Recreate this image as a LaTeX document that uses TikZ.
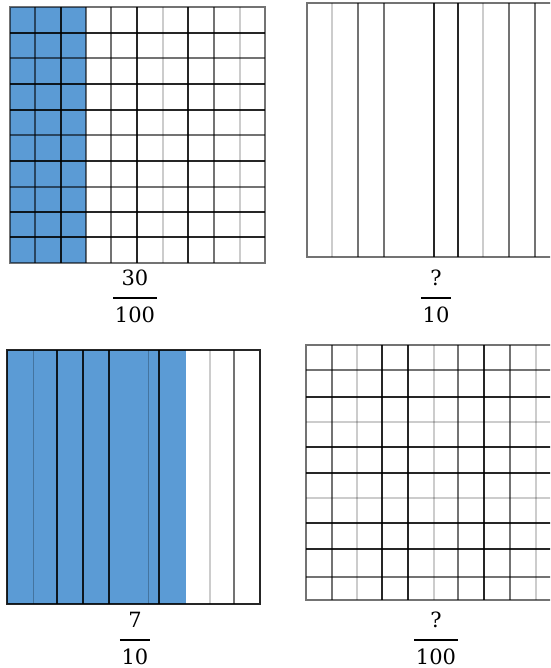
\documentclass[tikz,border=0pt]{standalone}
\usepackage{fontspec}
\newfontfamily\fracfont{DejaVu Serif}
\begin{document}
\begin{tikzpicture}[x=1pt,y=-1pt,
  dk/.style={draw=black,draw opacity=0.85,line width=1.3pt},
  md/.style={draw=black,draw opacity=0.55,line width=1.3pt},
  lt/.style={draw=black,draw opacity=0.2,line width=1.3pt},
  fa/.style={draw=black,draw opacity=0.25,line width=1pt},
  num/.style={font=\fracfont\fontsize{21}{25}\selectfont,inner sep=0pt,anchor=base},
  bar/.style={line width=2pt}]
\definecolor{fillblue}{HTML}{5B9BD5}
\clip (0,0) rectangle (550,668);
\fill[white] (0,0) rectangle (550,668);
% ---- top left: 30/100 ----
\fill[fillblue] (10,7) rectangle (86,263);
\foreach \y/\s in {33/dk,58/md,84/dk,110/dk,135/md,161/dk,187/md,212/dk,237/dk}
  \draw[\s] (10,\y) -- (265,\y);
\foreach \x/\s in {35/md,61/dk,86/md,111/md,137/dk,163/lt,188/dk,214/md,240/lt}
  \draw[\s] (\x,7) -- (\x,263);
\draw[md] (10,7) rectangle (265,263);
% ---- top right: ?/10 ----
\foreach \x/\s in {332/lt,358/md,384/md,434/dk,458/dk,483/lt,509/md,535/md}
  \draw[\s] (\x,3) -- (\x,257);
\draw[md] (307,3) rectangle (562,257);
% ---- bottom left: 7/10 ----
\fill[fillblue] (7,350) rectangle (186,604);
\foreach \x in {33,148}
  \draw[fa] (\x,350) -- (\x,604);
\foreach \x in {57,83,109,159}
  \draw[dk] (\x,350) -- (\x,604);
\draw[lt] (210,350) -- (210,604);
\draw[md] (234,350) -- (234,604);
\draw[dk] (7,350) rectangle (260,604);
% ---- bottom right: ?/100 ----
\foreach \y/\s in {370/md,397/dk,422/lt,447/dk,473/dk,498/lt,523/dk,549/dk,577/md}
  \draw[\s] (306,\y) -- (562,\y);
\foreach \x/\s in {332/md,357/lt,382/dk,408/dk,434/lt,458/md,484/dk,510/md,536/lt}
  \draw[\s] (\x,345) -- (\x,600);
\draw[md] (306,345) rectangle (562,600);
% ---- labels ----
\node[num] (n1) at (135,285.5) {30};
\node[num] (d1) at (135,322.5) {100};
\node[num] (n2) at (436,285.5) {?};
\node[num] (d2) at (436,322.5) {10};
\node[num] (n3) at (135,627.5) {7};
\node[num] (d3) at (135,664.5) {10};
\node[num] (n4) at (436,627.5) {?};
\node[num] (d4) at (436,664.5) {100};
\foreach \d in {d1,d2,d3,d4}
  \draw[bar] ([xshift=-1.5pt,yshift=8.5pt]\d.north west) -- ([xshift=1.5pt,yshift=8.5pt]\d.north east);
\end{tikzpicture}
\end{document}
